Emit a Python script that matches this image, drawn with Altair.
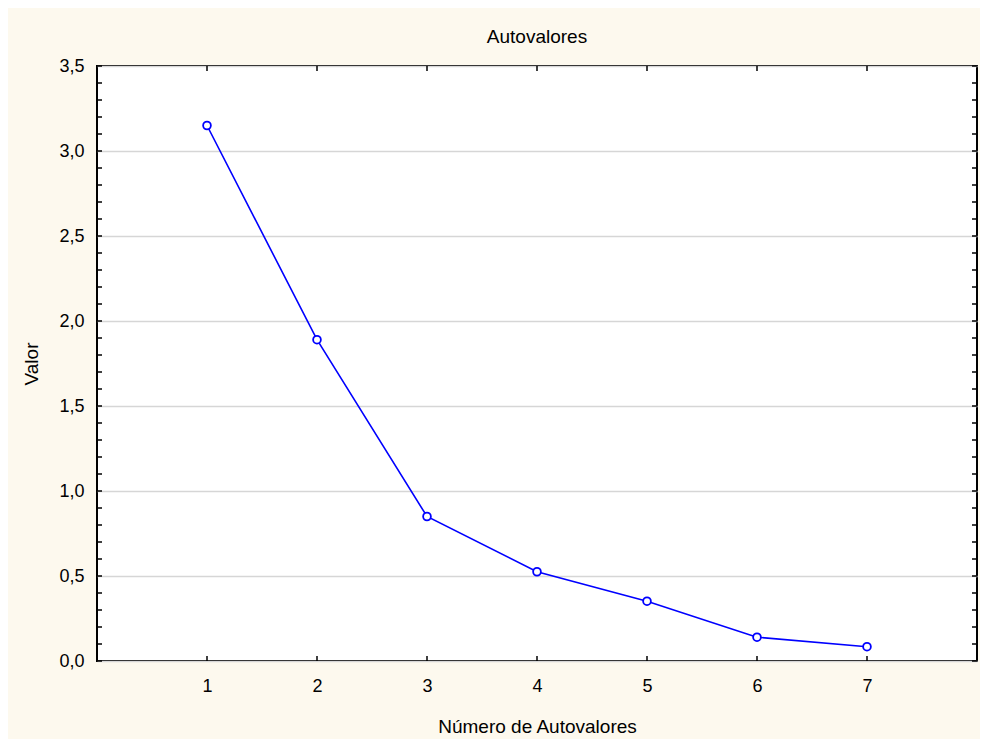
import altair as alt
import pandas as pd

# data
components = [1, 2, 3, 4, 5, 6, 7]
eigenvalues = [3.15, 1.89, 0.85, 0.525, 0.352, 0.14, 0.084]

x_ticks = [1, 2, 3, 4, 5, 6, 7]
y_major = [0.0, 0.5, 1.0, 1.5, 2.0, 2.5, 3.0, 3.5]
y_minor = [round(i / 10, 1) for i in range(36)]

W, H = 880, 595
FONT = "Liberation Sans"
BLUE = "#0000FF"

df = pd.DataFrame({"comp": components, "val": eigenvalues})
xt = pd.DataFrame({"x": x_ticks})
yt = pd.DataFrame({"y": y_minor})

xscale = alt.Scale(domain=[0, 8], nice=False, zero=False)
yscale = alt.Scale(domain=[0, 3.5], nice=False, zero=False)

xaxis = alt.Axis(values=x_ticks, format="d", title="Número de Autovalores", grid=False, ticks=False,
                 domain=False, labelFont=FONT, labelFontSize=18, labelColor="black",
                 labelPadding=16, titleFont=FONT, titleFontSize=19, titleFontWeight="normal",
                 titleColor="black", titlePadding=22, labelFlush=False)
yaxis = alt.Axis(values=y_major, title="Valor", grid=True, gridColor="#D6D6D6", gridWidth=1.5,
                 ticks=False, domain=False, labelFont=FONT, labelFontSize=18, labelColor="black",
                 labelPadding=13, labelExpr="replace(format(datum.value, '.1f'), '.', ',')",
                 titleFont=FONT, titleFontSize=19, titleFontWeight="normal", titleColor="black",
                 titlePadding=17, labelFlush=False)

base_line = alt.Chart(df).mark_line(color=BLUE, strokeWidth=1.6).encode(
    x=alt.X("comp:Q", scale=xscale, axis=xaxis),
    y=alt.Y("val:Q", scale=yscale, axis=yaxis),
)
points = alt.Chart(df).mark_point(shape="circle", filled=True, fill="white", stroke=BLUE,
                                  strokeWidth=1.8, size=60, opacity=1).encode(
    x=alt.X("comp:Q", scale=xscale),
    y=alt.Y("val:Q", scale=yscale),
)

tick_len = 5
xb = alt.Chart(xt).mark_rule(color="black", strokeWidth=1.5).encode(
    x=alt.X("x:Q", scale=xscale), y=alt.value(H), y2=alt.value(H - tick_len))
xtop = alt.Chart(xt).mark_rule(color="black", strokeWidth=1.5).encode(
    x=alt.X("x:Q", scale=xscale), y=alt.value(0), y2=alt.value(tick_len))
yl = alt.Chart(yt).mark_rule(color="black", strokeWidth=1.5).encode(
    y=alt.Y("y:Q", scale=yscale), x=alt.value(0), x2=alt.value(tick_len))
yr = alt.Chart(yt).mark_rule(color="black", strokeWidth=1.5).encode(
    y=alt.Y("y:Q", scale=yscale), x=alt.value(W), x2=alt.value(W - tick_len))

chart = alt.layer(xb, xtop, yl, yr, base_line, points).properties(
    width=W, height=H,
    title=alt.TitleParams("Autovalores", font=FONT, fontSize=19, fontWeight="normal",
                          color="black", anchor="middle", offset=10),
    background="#FDF9EE",
    padding={"left": 89, "top": 58, "right": 3, "bottom": 78},
    autosize=alt.AutoSizeParams(type="none"),
).configure_view(fill="white", stroke="black", strokeWidth=2)

chart.save("out.html", embed_options={"renderer": "svg", "actions": False})
